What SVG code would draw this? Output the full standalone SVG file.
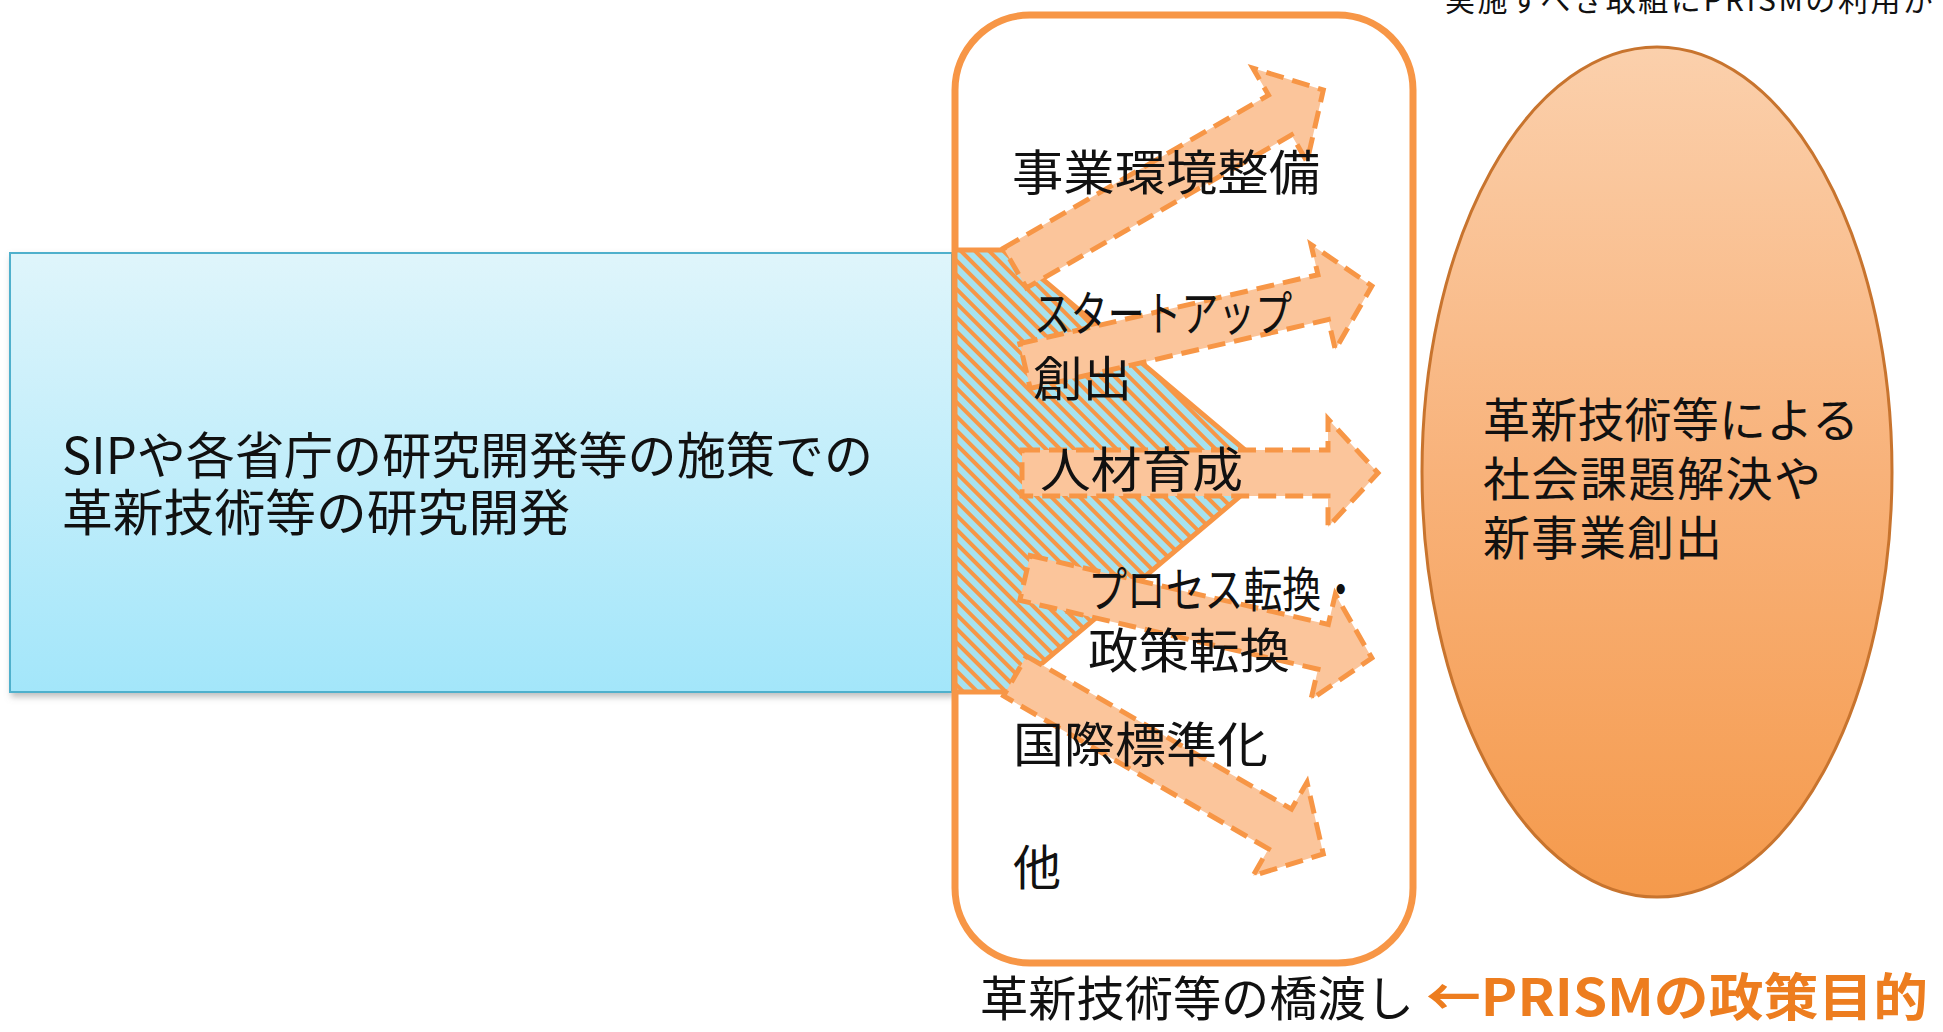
<svg xmlns="http://www.w3.org/2000/svg" width="1943" height="1032" viewBox="0 0 1943 1032">
  <defs>
    <linearGradient id="blueGrad" x1="0" y1="0" x2="0" y2="1">
      <stop offset="0" stop-color="#DFF5FB"/>
      <stop offset="1" stop-color="#A3E6FA"/>
    </linearGradient>
    <linearGradient id="ovalGrad" x1="0" y1="0" x2="0" y2="1">
      <stop offset="0" stop-color="#FBD0AC"/>
      <stop offset="0.5" stop-color="#F8B27A"/>
      <stop offset="1" stop-color="#F59A4C"/>
    </linearGradient>
    <pattern id="hatch" width="10" height="10" patternUnits="userSpaceOnUse" patternTransform="rotate(-45)">
      <rect width="10" height="10" fill="#A6E2EF"/>
      <rect x="0" y="0" width="4" height="10" fill="#F79646"/>
    </pattern>
    <filter id="shadow" x="-5%" y="-5%" width="110%" height="115%">
      <feDropShadow dx="2" dy="4" stdDeviation="3" flood-color="#808080" flood-opacity="0.5"/>
    </filter>
    <path id="arrowShape" d="M0,-23 L306,-23 L306,-54 L356,0 L306,54 L306,23 L0,23 Z"/>
  </defs>
  <style>
    text { font-family: "Noto Sans CJK JP", "Noto Sans", sans-serif; fill: #111; }
    .lbl { font-size: 48px; }
    .blue { font-size: 50px; }
    .oval { font-size: 47px; }
    .arrow { fill: #FBC59B; stroke: #F79646; stroke-width: 5; stroke-dasharray: 18 9; stroke-linejoin: miter; }
    .purpose { font-size: 51px; font-weight: bold; fill: #ED7D1F; }
  </style>

  <g id="note">
    <text x="1445" y="11" style="font-size:30px" textLength="488" lengthAdjust="spacing">実施すべき取組にPRISMの利用が</text>
  </g>

  <g id="research">
    <rect x="10" y="253" width="942" height="439" fill="url(#blueGrad)" stroke="#4FB0CC" stroke-width="2" filter="url(#shadow)"/>
    <text class="blue" x="62" y="474" textLength="811" lengthAdjust="spacingAndGlyphs">SIPや各省庁の研究開発等の施策での</text>
    <text class="blue" x="62" y="531" textLength="508" lengthAdjust="spacingAndGlyphs">革新技術等の研究開発</text>
  </g>

  <g id="bridge">
    <rect x="955" y="15" width="458" height="948" rx="75" ry="75" fill="#FFFFFF" stroke="#F79646" stroke-width="7"/>
    <polygon points="955,250 1008,250 1270,471 1008,692 955,692" fill="url(#hatch)" stroke="#F79646" stroke-width="5"/>
  </g>

  <g id="connectors">
    <use href="#arrowShape" class="arrow" transform="translate(1015,268) rotate(-30)"/>
    <use href="#arrowShape" class="arrow" transform="translate(1025,366) rotate(-13)"/>
    <use href="#arrowShape" class="arrow" transform="translate(1022,473)"/>
    <use href="#arrowShape" class="arrow" transform="translate(1025,578) rotate(13)"/>
    <use href="#arrowShape" class="arrow" transform="translate(1015,676) rotate(30)"/>
  </g>

  <g id="bridge-labels">
    <text class="lbl" x="1012" y="190" textLength="308" lengthAdjust="spacingAndGlyphs">事業環境整備</text>
    <text class="lbl" x="1034" y="331" textLength="258" lengthAdjust="spacingAndGlyphs">スタートアップ</text>
    <text class="lbl" x="1033" y="396" textLength="99" lengthAdjust="spacingAndGlyphs">創出</text>
    <text class="lbl" x="1040" y="487" textLength="203" lengthAdjust="spacingAndGlyphs">人材育成</text>
    <text class="lbl" x="1088" y="607" textLength="272" lengthAdjust="spacingAndGlyphs">プロセス転換・</text>
    <text class="lbl" x="1088" y="668" textLength="202" lengthAdjust="spacingAndGlyphs">政策転換</text>
    <text class="lbl" x="1013" y="762" textLength="255" lengthAdjust="spacingAndGlyphs">国際標準化</text>
    <text class="lbl" x="1013" y="885">他</text>
  </g>

  <g id="goal">
    <ellipse cx="1657" cy="472" rx="235" ry="425" fill="url(#ovalGrad)" stroke="#C8742E" stroke-width="3"/>
    <text class="oval" x="1483" y="437" textLength="376" lengthAdjust="spacing">革新技術等による</text>
    <text class="oval" x="1483" y="496" textLength="338" lengthAdjust="spacing">社会課題解決や</text>
    <text class="oval" x="1483" y="555" textLength="239" lengthAdjust="spacing">新事業創出</text>
  </g>

  <g id="caption">
    <text class="lbl" x="980" y="1016" textLength="434" lengthAdjust="spacingAndGlyphs">革新技術等の橋渡し</text>
    <text class="purpose" x="1426" y="1016" textLength="502" lengthAdjust="spacingAndGlyphs">←PRISMの政策目的</text>
  </g>
</svg>
